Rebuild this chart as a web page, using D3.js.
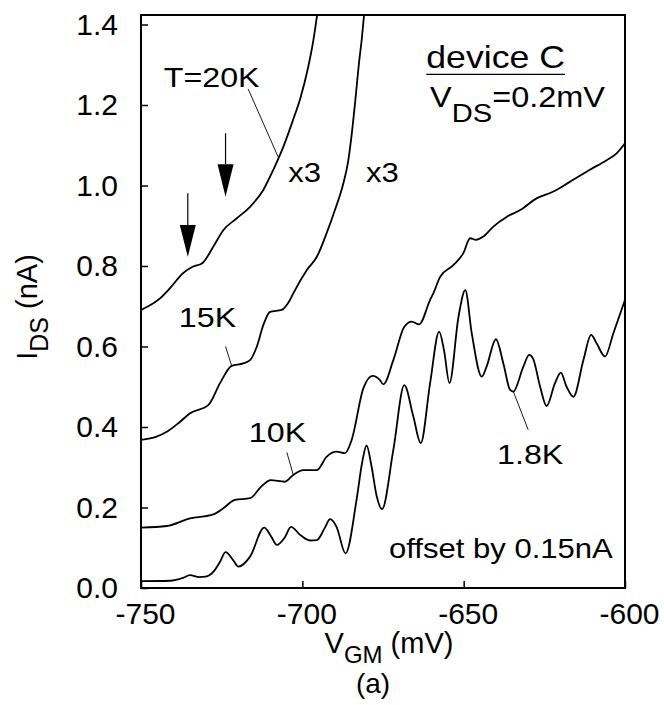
<!DOCTYPE html>
<html lang="en">
<head>
    <meta charset="utf-8">
    <title>device C</title>
    <script type="text/javascript" src="https://d3js.org/d3.v7.min.js"></script>
    <style>
        body {
            margin: 0;
            background: white;
        }
        svg text {
            font-family: "Liberation Sans", Arial, Helvetica, sans-serif;
            fill: black;
        }
        g.tick text {
            font-size: 30px;
        }
        g.tick line {
            stroke-width: 1.5px;
        }
    </style>
</head>
<body>
    <div id="chart"></div>

<script type="text/javascript">
    // values: V_GM in mV, I_DS in nA (already offset)
    const vgm20K = [-750, -744, -741, -737, -734, -731, -727.6, -724.5, -720.4, -716.2, -712.1, -709, -705.9, -703, -700.5, -698.3, -696.6, -695.3];
    const ids20K = [0.691, 0.72, 0.745, 0.782, 0.798, 0.807, 0.848, 0.889, 0.918, 0.947, 0.989, 1.039, 1.096, 1.16, 1.22, 1.29, 1.36, 1.43];

    const vgm15K = [-750, -745.2, -742, -737.9, -734.8, -729.1, -725.5, -721.9, -718.3, -716.2, -714.1, -712.1, -710, -706.4, -703.8, -702.8, -698.6, -695.5, -692.5, -689.9, -687.3, -685.8, -684.8, -683.6, -682.5, -681.5, -680.8];
    const ids15K = [0.368, 0.376, 0.388, 0.413, 0.434, 0.455, 0.509, 0.552, 0.558, 0.566, 0.6, 0.653, 0.686, 0.691, 0.716, 0.732, 0.79, 0.823, 0.881, 0.939, 1.005, 1.06, 1.12, 1.21, 1.3, 1.37, 1.43];

    const vgm10K = [-750, -742, -734.8, -727.6, -724.5, -720.9, -716.2, -712.6, -709.8, -705.4, -702.8, -699.7, -695.5, -692.5, -689.4, -686.8, -684.7, -681.1, -678.2, -676, -674.9, -671.8, -668.4, -666.1, -663.8, -660.4, -659.4, -657.3, -653.2, -650.1, -648, -646.2, -643.9, -640.8, -636.7, -632.5, -627.4, -622.2, -617.1, -610.9, -605.7, -602.6, -600];
    const ids10K = [0.15, 0.154, 0.173, 0.183, 0.198, 0.219, 0.223, 0.253, 0.268, 0.264, 0.281, 0.293, 0.293, 0.326, 0.339, 0.335, 0.368, 0.496, 0.527, 0.517, 0.506, 0.566, 0.649, 0.662, 0.655, 0.716, 0.732, 0.773, 0.802, 0.832, 0.869, 0.865, 0.873, 0.898, 0.922, 0.939, 0.968, 0.985, 1.009, 1.039, 1.063, 1.08, 1.105];

    const vgm1p8K = [-750, -741, -737, -734.8, -732, -730, -727.6, -725.5, -723.8, -721.5, -719.8, -716.2, -711.8, -709.8, -707.9, -705.5, -703.5, -700.7, -697.6, -695.5, -693, -691.4, -689.4, -686.6, -683.2, -681.5, -680.1, -678.5, -677, -675.3, -671.8, -668.4, -665.6, -663.3, -660.4, -657.6, -656.1, -654.4, -651.6, -649.5, -647.5, -644.4, -642.9, -640, -637.7, -635.6, -634.6, -631.5, -629.7, -628.5, -626.3, -624.3, -621.7, -619.9, -618.1, -616, -612.9, -610.5, -608.8, -606.2, -603.6, -600];
    const ids1p8K = [0.017, 0.018, 0.025, 0.032, 0.027, 0.028, 0.04, 0.065, 0.089, 0.07, 0.053, 0.078, 0.15, 0.13, 0.107, 0.125, 0.152, 0.132, 0.118, 0.119, 0.15, 0.171, 0.152, 0.086, 0.219, 0.31, 0.354, 0.3, 0.23, 0.196, 0.343, 0.504, 0.426, 0.36, 0.509, 0.637, 0.591, 0.509, 0.674, 0.74, 0.633, 0.525, 0.55, 0.618, 0.558, 0.492, 0.488, 0.55, 0.579, 0.57, 0.5, 0.452, 0.509, 0.535, 0.5, 0.475, 0.566, 0.629, 0.608, 0.575, 0.633, 0.716];

    const xTicks = [-750, -700, -650, -600];
    const yTicks = [0, 0.2, 0.4, 0.6, 0.8, 1.0, 1.2, 1.4];

    // arrows marking the kinks on the 20K trace: [V_GM, top, head start, tip]
    const arrowV = [-735.5, -723.8];
    const arrowTop = [0.981, 1.13];
    const arrowHead = [0.902, 1.053];
    const arrowTip = [0.823, 0.972];

    const width = 664;
    const height = 705;
    const marginLeft = 141;
    const marginTop = 15;
    const plotW = 484;
    const plotH = 573;

    const svg = d3.select("#chart")
        .append("svg")
        .attr("width", width)
        .attr("height", height);

    const xScale = d3.scaleLinear()
        .domain([-750, -600])
        .range([marginLeft, marginLeft + plotW]);

    const yScale = d3.scaleLinear()
        .domain([0, 1.4236])
        .range([marginTop + plotH, marginTop]);

    svg.append("defs").append("clipPath")
        .attr("id", "plot-clip")
        .append("rect")
        .attr("x", marginLeft)
        .attr("y", marginTop)
        .attr("width", plotW)
        .attr("height", plotH);

    // axes, ticks point inward
    svg.append("g")
        .attr("transform", "translate(0," + (marginTop + plotH) + ")")
        .call(d3.axisBottom(xScale)
            .tickValues(xTicks)
            .tickFormat(d => String(d))
            .tickSizeInner(-7)
            .tickSizeOuter(0)
            .tickPadding(15))
        .call(g => g.select(".domain").remove())
        .call(g => g.selectAll("text").attr("dx", 4));

    svg.append("g")
        .attr("transform", "translate(" + marginLeft + ",0)")
        .call(d3.axisLeft(yScale)
            .tickValues(yTicks)
            .tickFormat(d3.format(".1f"))
            .tickSizeInner(-7)
            .tickSizeOuter(0)
            .tickPadding(23))
        .call(g => g.select(".domain").remove());

    svg.append("rect")
        .attr("x", marginLeft)
        .attr("y", marginTop)
        .attr("width", plotW)
        .attr("height", plotH)
        .attr("fill", "none")
        .attr("stroke", "black")
        .attr("stroke-width", 2);

    // curves
    const line = d3.line()
        .x(d => xScale(d[0]))
        .y(d => yScale(d[1]))
        .curve(d3.curveMonotoneX);

    const series = [
        [vgm20K, ids20K],
        [vgm15K, ids15K],
        [vgm10K, ids10K],
        [vgm1p8K, ids1p8K]
    ];

    svg.append("g")
        .attr("clip-path", "url(#plot-clip)")
        .selectAll("path")
        .data(series)
        .enter()
        .append("path")
        .attr("d", s => line(d3.zip(s[0], s[1])))
        .attr("fill", "none")
        .attr("stroke", "black")
        .attr("stroke-width", 1.8);

    // text labels inside the frame (slightly wide lettering, like the scan)
    function label(v, i, txt, size, anchor) {
        const g = svg.append("g")
            .attr("transform", "translate(" + xScale(v) + "," + yScale(i) + ") scale(1.15,1)");
        g.append("text")
            .attr("text-anchor", anchor)
            .style("font-size", size + "px")
            .text(txt);
        return g;
    }

    function leader(v1, i1, v2, i2) {
        svg.append("line")
            .attr("x1", xScale(v1))
            .attr("y1", yScale(i1))
            .attr("x2", xScale(v2))
            .attr("y2", yScale(i2))
            .attr("stroke", "black")
            .attr("stroke-width", 0.9);
    }

    label(-728.1, 1.245, "T=20K", 28, "middle");
    leader(-716.8, 1.24, -707.5, 1.071);
    label(-704.4, 1.009, "x3", 27, "start");
    label(-680.3, 1.009, "x3", 27, "start");

    label(-729.4, 0.649, "15K", 28, "middle");
    leader(-723.8, 0.6, -721.9, 0.552);

    label(-707.7, 0.363, "10K", 28, "middle");
    leader(-704.8, 0.337, -702.8, 0.281);

    label(-629.4, 0.308, "1.8K", 28, "middle");
    leader(-630, 0.393, -634.6, 0.488);

    const dev = label(-640.1, 1.291, "device C", 31, "middle");
    const bb = dev.select("text").node().getBBox();
    dev.append("line")
        .attr("x1", bb.x)
        .attr("x2", bb.x + bb.width)
        .attr("y1", 6)
        .attr("y2", 6)
        .attr("stroke", "black")
        .attr("stroke-width", 1.2);

    const vds = svg.append("g")
        .attr("transform", "translate(" + xScale(-660.4) + "," + yScale(1.196) + ") scale(1.12,1)")
        .append("text")
        .style("font-size", "29px");
    vds.append("tspan").text("V");
    vds.append("tspan").attr("dy", 15).style("font-size", "26px").text("DS");
    vds.append("tspan").attr("dy", -15).text("=0.2mV");

    label(-603.8, 0.074, "offset by 0.15nA", 27, "end");

    // arrows
    arrowV.forEach((v, k) => {
        const x = xScale(v);
        svg.append("line")
            .attr("x1", x)
            .attr("x2", x)
            .attr("y1", yScale(arrowTop[k]))
            .attr("y2", yScale(arrowHead[k]))
            .attr("stroke", "black")
            .attr("stroke-width", 1.2);
        svg.append("path")
            .attr("d", "M" + (x - 8) + "," + yScale(arrowHead[k]) +
                       "L" + (x + 8) + "," + yScale(arrowHead[k]) +
                       "L" + x + "," + yScale(arrowTip[k]) + "Z")
            .attr("fill", "black");
    });

    // axis titles
    const ylab = svg.append("text")
        .attr("transform", "translate(37,307) rotate(-90)")
        .attr("text-anchor", "middle")
        .style("font-size", "29px");
    ylab.append("tspan").text("I");
    ylab.append("tspan").attr("dy", 11).style("font-size", "25px").text("DS");
    ylab.append("tspan").attr("dy", -11).text(" (nA)");

    const xlab = svg.append("text")
        .attr("x", 389)
        .attr("y", 653)
        .attr("text-anchor", "middle")
        .style("font-size", "29px");
    xlab.append("tspan").text("V");
    xlab.append("tspan").attr("dy", 10).style("font-size", "24px").text("GM");
    xlab.append("tspan").attr("dy", -10).text(" (mV)");

    svg.append("text")
        .attr("x", 373)
        .attr("y", 693)
        .attr("text-anchor", "middle")
        .style("font-size", "28px")
        .text("(a)");
</script>
</body>
</html>
